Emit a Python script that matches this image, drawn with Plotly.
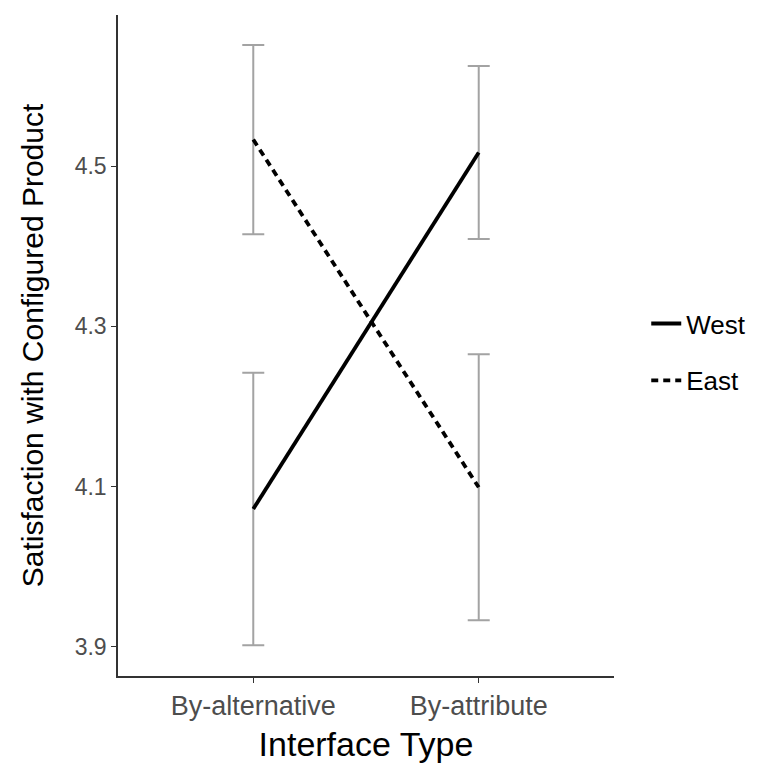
import plotly.graph_objects as go

categories = ["By-alternative", "By-attribute"]
west_mean = [4.072, 4.517]
west_err = [0.170, 0.108]
east_mean = [4.533, 4.099]
east_err = [0.118, 0.166]
y_ticks = [3.9, 4.1, 4.3, 4.5]

err_style = dict(type="data", visible=True, color="#A3A3A3", thickness=2, width=11)

fig = go.Figure()
fig.add_trace(go.Scatter(
    x=categories, y=west_mean, mode="lines", name="West", legendgroup="w",
    line=dict(color="black", width=3.8),
    error_y=dict(array=west_err, **err_style),
))
fig.add_trace(go.Scatter(
    x=categories, y=east_mean, mode="lines", name="East", legendgroup="e",
    line=dict(color="black", width=3.8, dash="7px,5px"),
    error_y=dict(array=east_err, **err_style),
))

fig.update_layout(
    width=758, height=767,
    margin=dict(l=118, r=144, t=15, b=91, autoexpand=False),
    plot_bgcolor="white", paper_bgcolor="white",
    font=dict(family="Liberation Sans, Arial, sans-serif", color="black"),
    showlegend=True,
    legend=dict(
        x=1.065, xanchor="left", y=0.49, yanchor="middle",
        font=dict(size=26, color="black"),
        itemwidth=30,
        tracegroupgap=20, traceorder="grouped",
        bgcolor="rgba(0,0,0,0)",
    ),
    xaxis=dict(
        type="category", range=[-0.6, 1.6],
        showline=True, linecolor="#333333", linewidth=1.5,
        ticks="outside", ticklen=5, tickwidth=1.2, tickcolor="#333333",
        tickfont=dict(size=27, color="#4D4D4D"),
        showgrid=False, zeroline=False,
        title=dict(text="Interface Type", font=dict(size=34, color="black"), standoff=12),
    ),
    yaxis=dict(
        range=[3.8635, 4.6885],
        tickvals=y_ticks, ticktext=[f"{v:.1f}" for v in y_ticks],
        showline=True, linecolor="#333333", linewidth=1.5,
        ticks="outside", ticklen=5, tickwidth=1.2, tickcolor="#333333",
        tickfont=dict(size=23, color="#4D4D4D"),
        showgrid=False, zeroline=False,
        title=dict(text="Satisfaction with Configured Product", font=dict(size=30, color="black"), standoff=22),
    ),
)

fig.write_html("out.html")
